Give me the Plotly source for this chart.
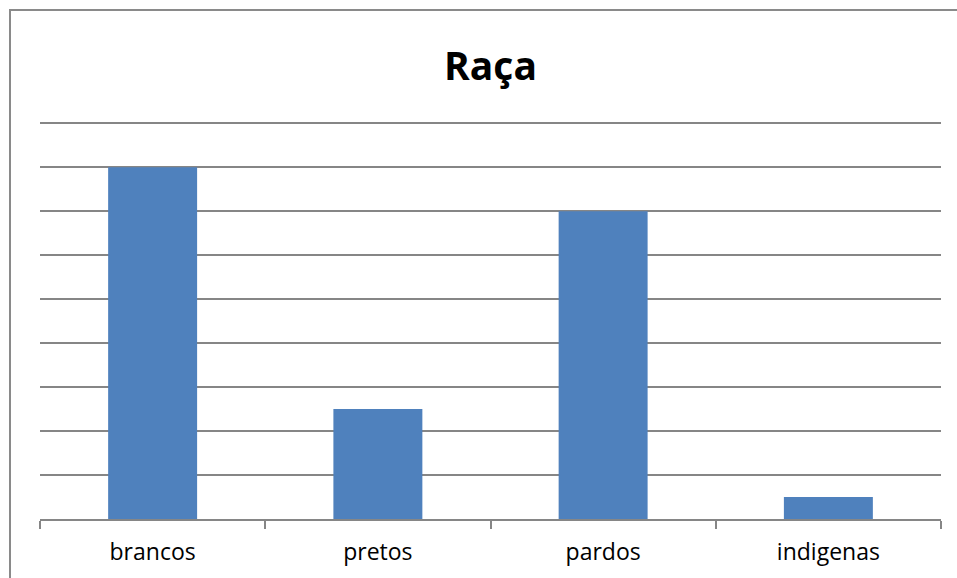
import plotly.graph_objects as go

categories = ["brancos", "pretos", "pardos", "indigenas"]
values = [8, 2.5, 7, 0.5]

BAR = "#4F81BD"
GRID = "#868686"
FONT = "Open Sans"

fig = go.Figure(go.Bar(x=categories, y=values, marker=dict(color=BAR, line=dict(width=0)), width=0.395))

fig.update_layout(
    width=957, height=578,
    margin=dict(l=40, r=16, t=122, b=59),
    paper_bgcolor="white", plot_bgcolor="white",
    showlegend=False,
    title=dict(text="<b>Raça</b>", x=0.5, xref="paper", xanchor="center",
               y=1 - 66 / 578, yref="container", yanchor="middle",
               font=dict(family=FONT, size=39, color="black")),
    font=dict(family=FONT),
)
fig.update_xaxes(
    showline=True, linecolor=GRID, linewidth=1.5,
    ticks="outside", tickson="boundaries", ticklen=8, tickcolor=GRID, tickwidth=1.5,
    tickfont=dict(family=FONT, size=23, color="black"), ticklabelstandoff=12,
    range=[-0.5, 3.5], showgrid=False,
)
fig.update_yaxes(
    range=[0, 9.03], dtick=1, showticklabels=False, showgrid=True,
    gridcolor=GRID, gridwidth=1.5, zeroline=False, showline=False, ticks="",
)
fig.add_shape(type="rect", xref="paper", yref="paper",
              x0=(10 - 40) / 901, x1=1.3, y0=-0.6, y1=1 + (122 - 10) / 397,
              line=dict(color="#8a8a8a", width=2), fillcolor="rgba(0,0,0,0)", layer="above")

fig.write_html("out.html")
